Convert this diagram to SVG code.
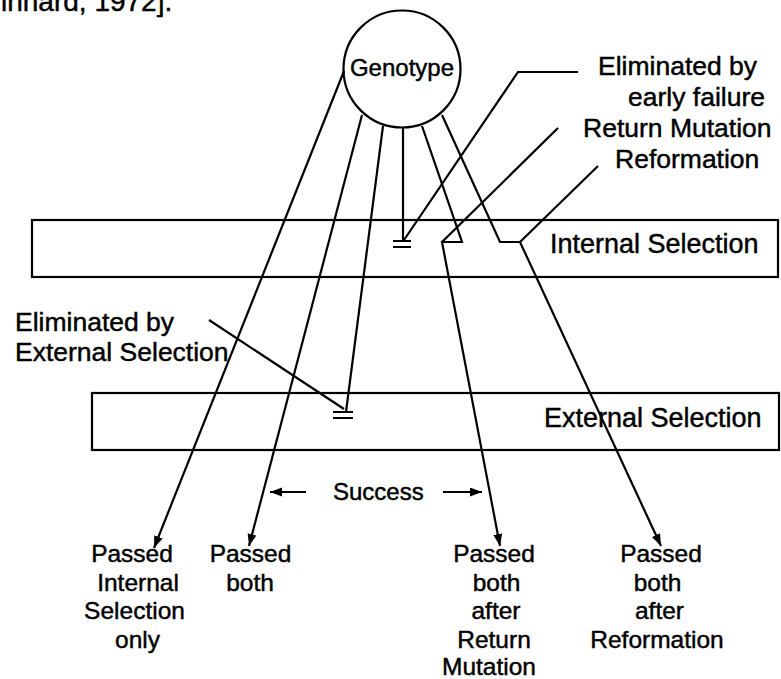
<svg xmlns="http://www.w3.org/2000/svg" width="781" height="679" viewBox="0 0 781 679">
<style>
text{font-family:"Liberation Sans",Arial,sans-serif;fill:#000;stroke:#000;stroke-width:0.45px}
.lbl{font-size:26.5px}
.bot{font-size:24.5px;text-anchor:middle}
.ln{fill:none;stroke:#000;stroke-width:2.2;stroke-linejoin:miter}
.box{fill:none;stroke:#000;stroke-width:2.2}
</style>
<defs>
<marker id="ah" markerUnits="userSpaceOnUse" markerWidth="13" markerHeight="10" refX="12" refY="4.5" orient="auto">
<path d="M0,0 L12,4.5 L0,9 z" fill="#000"/>
</marker>
</defs>
<rect width="781" height="679" fill="#fff" stroke="none"/>
<text x="1" y="11" style="font-size:28px">inhard, 1972].</text>

<g id="internal-selection">
<rect class="box" x="32" y="220" width="746" height="57"/>
<text class="lbl" x="550" y="253" style="font-size:27px">Internal Selection</text>
</g>
<g id="external-selection">
<rect class="box" x="92" y="393" width="687" height="57"/>
<text class="lbl" x="544" y="427" style="font-size:27px">External Selection</text>
</g>
<g id="genotype">
<circle cx="402" cy="69" r="58.5" fill="#fff" stroke="#000" stroke-width="2.2"/>
<text x="402" y="76" text-anchor="middle" style="font-size:24px">Genotype</text>
</g>

<g id="connectors">
<path class="ln" d="M344,71 L154,548" marker-end="url(#ah)"/>
<path class="ln" d="M362,115 L249,546" marker-end="url(#ah)"/>
<path class="ln" d="M383,126 L346,412"/>
<path class="ln" d="M333,412 H353 M333,418 H353"/>
<path class="ln" d="M403,128 V241"/>
<path class="ln" d="M393,241 H411 M393,247 H411"/>
<path class="ln" d="M422,126 L462,242 H442 L500,546" marker-end="url(#ah)"/>
<path class="ln" d="M442,115 L500,242 H520 L661,546" marker-end="url(#ah)"/>
<path class="ln" d="M578,72 H518 L404,240"/>
<path class="ln" d="M558,128 L442,242"/>
<path class="ln" d="M598,166 L520,242"/>
<path class="ln" d="M209,320 L344,409"/>
<path class="ln" d="M306,492 H270" marker-end="url(#ah)"/>
<path class="ln" d="M443,492 H482" marker-end="url(#ah)"/>
</g>

<g id="label-early-failure">
<text class="lbl" x="598" y="75">Eliminated by</text>
<text class="lbl" x="628" y="106">early failure</text>
</g>
<g id="label-return-mutation">
<text class="lbl" x="583" y="137">Return Mutation</text>
</g>
<g id="label-reformation">
<text class="lbl" x="615" y="168">Reformation</text>
</g>
<g id="label-external">
<text class="lbl" x="15" y="331">Eliminated by</text>
<text class="lbl" x="15" y="361">External Selection</text>
</g>
<g id="label-success">
<text x="333" y="500" style="font-size:24px">Success</text>
</g>
<g id="out-internal-only">
<text class="bot" x="132" y="562">Passed</text>
<text class="bot" x="138" y="590.5">Internal</text>
<text class="bot" x="134.5" y="619">Selection</text>
<text class="bot" x="137.5" y="647.5">only</text>
</g>
<g id="out-both">
<text class="bot" x="250.5" y="562">Passed</text>
<text class="bot" x="250" y="590.5">both</text>
</g>
<g id="out-return">
<text class="bot" x="494" y="562">Passed</text>
<text class="bot" x="496.5" y="590.5">both</text>
<text class="bot" x="496" y="619">after</text>
<text class="bot" x="494" y="647.5">Return</text>
<text class="bot" x="489" y="675">Mutation</text>
</g>
<g id="out-reformation">
<text class="bot" x="661" y="562">Passed</text>
<text class="bot" x="657.5" y="590.5">both</text>
<text class="bot" x="659.5" y="619">after</text>
<text class="bot" x="657" y="647.5">Reformation</text>
</g>
</svg>
